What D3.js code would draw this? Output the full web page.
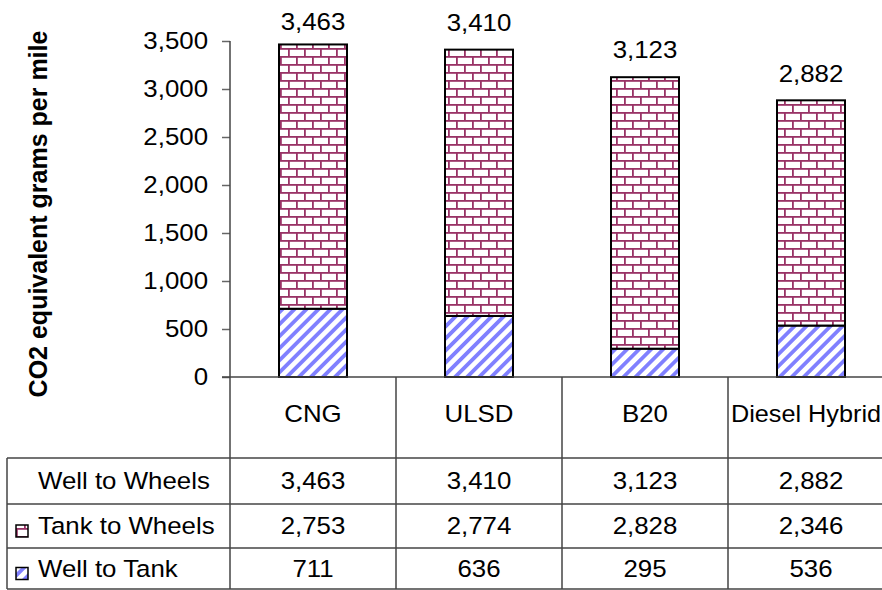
<!DOCTYPE html>
<html><head><meta charset="utf-8">
<script src="https://cdn.jsdelivr.net/npm/d3@7"></script>
<style>
html,body{margin:0;padding:0;background:#fff;}
svg{display:block;font-family:"Liberation Sans",Arial,sans-serif;}
</style></head>
<body>
<svg id="chart" width="882" height="590"></svg>
<script>
const categories = ["CNG", "ULSD", "B20", "Diesel Hybrid"];
const wellToWheels = [3463, 3410, 3123, 2882];
const tankToWheels = [2753, 2774, 2828, 2346];
const wellToTank = [711, 636, 295, 536];
const yTicks = [0, 500, 1000, 1500, 2000, 2500, 3000, 3500];
const rowLabels = ["Well to Wheels", "Tank to Wheels", "Well to Tank"];
const yTitle = "CO2 equivalent grams per mile";

const W = 882;
const svg = d3.select("#chart");
const fs = 23.5;
const sx = 1.1;
const fmt = d3.format(",");

function txt(parent, x, y, s, anchor, scaleX) {
  return parent.append("text")
    .attr("transform", `translate(${x},${y}) scale(${scaleX || sx},1)`)
    .attr("dy", "0.35em")
    .attr("text-anchor", anchor || "middle")
    .attr("font-size", fs).attr("fill", "#000").text(s);
}

// patterns
const defs = svg.append("defs");
const brick = defs.append("pattern").attr("id","brick").attr("patternUnits","userSpaceOnUse")
  .attr("width",16).attr("height",16);
brick.append("rect").attr("width",16).attr("height",16).attr("fill","#fff");
const bc = "#993366";
brick.append("rect").attr("x",0).attr("y",0).attr("width",16).attr("height",1.8).attr("fill",bc);
brick.append("rect").attr("x",0).attr("y",8).attr("width",16).attr("height",1.8).attr("fill",bc);
brick.append("rect").attr("x",0).attr("y",0).attr("width",1.8).attr("height",8).attr("fill",bc);
brick.append("rect").attr("x",8).attr("y",8).attr("width",1.8).attr("height",8).attr("fill",bc);

const stripe = defs.append("pattern").attr("id","stripe").attr("patternUnits","userSpaceOnUse")
  .attr("width",8.5).attr("height",8.5).attr("patternTransform","rotate(45)");
stripe.append("rect").attr("width",8.5).attr("height",8.5).attr("fill","#fff");
stripe.append("rect").attr("x",0).attr("y",0).attr("width",3.8).attr("height",8.5).attr("fill","#8080ff");

// scales
const x = d3.scaleBand().domain(categories).range([230, 894]).paddingInner(0).paddingOuter(0);
const y = d3.scaleLinear().domain([0, 3500]).range([377, 41]);

// y axis
const yAxis = d3.axisLeft(y).tickValues(yTicks).tickFormat(fmt).tickSize(8).tickPadding(14);
const gy = svg.append("g").attr("transform","translate(230,0)").call(yAxis);
gy.select(".domain").remove();
gy.selectAll(".tick line").attr("stroke","#666").attr("stroke-width",1.5);
gy.selectAll(".tick text").attr("font-size",fs).attr("fill","#000")
  .attr("font-family","Liberation Sans, Arial, sans-serif")
  .attr("x", -22/sx).attr("transform", `scale(${sx},1)`);

// y title
svg.append("text").attr("transform","translate(47,214) rotate(-90)")
  .attr("text-anchor","middle").attr("font-weight","bold").attr("font-size",25).attr("fill","#000")
  .text(yTitle);

// bars
const bw = 68;
const g = svg.append("g");
categories.forEach((c,i)=>{
  const cx = x(c) + x.bandwidth()/2;
  g.append("rect").attr("x",cx-bw/2).attr("y",y(wellToTank[i])).attr("width",bw)
    .attr("height",y(0)-y(wellToTank[i])).attr("fill","url(#stripe)").attr("stroke","#000").attr("stroke-width",2);
  g.append("rect").attr("x",cx-bw/2).attr("y",y(wellToTank[i]+tankToWheels[i])).attr("width",bw)
    .attr("height",y(wellToTank[i])-y(wellToTank[i]+tankToWheels[i])).attr("fill","url(#brick)").attr("stroke","#000").attr("stroke-width",2);
  const top = y(wellToTank[i]+tankToWheels[i]);
  const cy = Math.max(top-27, 21.5);
  txt(g, cx, cy, fmt(wellToWheels[i]));
});

// table
const lc = "#444", lw = 1.5;
const rowsY = [377, 458, 504, 548, 589];
const tg = svg.append("g");
tg.append("line").attr("x1",230).attr("x2",230).attr("y1",41).attr("y2",589).attr("stroke",lc).attr("stroke-width",lw);
tg.append("line").attr("x1",222).attr("x2",W).attr("y1",377).attr("y2",377).attr("stroke",lc).attr("stroke-width",lw);
[458,504,548,589].forEach(yy=>{
  tg.append("line").attr("x1",7).attr("x2",W).attr("y1",yy).attr("y2",yy).attr("stroke",lc).attr("stroke-width",lw);
});
tg.append("line").attr("x1",7).attr("x2",7).attr("y1",458).attr("y2",589).attr("stroke",lc).attr("stroke-width",lw);
categories.slice(1).forEach(c=>{
  tg.append("line").attr("x1",x(c)).attr("x2",x(c)).attr("y1",377).attr("y2",589).attr("stroke",lc).attr("stroke-width",lw);
});
categories.forEach(c=>{
  const t = txt(tg, x(c)+x.bandwidth()/2, 414, c);
  const w = t.node().getComputedTextLength() * sx;
  const left = x(c) + x.bandwidth()/2 - w/2;
  const right = left + w;
  if (right > W - 1) {
    const avail = W - 1 - (x(c) + 3);
    const s2 = sx * Math.min(1, avail / w);
    t.attr("text-anchor","start")
     .attr("transform", `translate(${x(c)+3},414) scale(${s2},1)`);
  }
});
const rowData = [wellToWheels, tankToWheels, wellToTank];
rowData.forEach((arr,r)=>{
  const cy = (rowsY[r+1]+rowsY[r+2])/2;
  arr.forEach((v,i)=>{
    txt(tg, x(categories[i])+x.bandwidth()/2, cy, fmt(v));
  });
  txt(tg, 38, cy, rowLabels[r], "start");
  if(r>0){
    tg.append("rect").attr("x",16).attr("y",cy-1).attr("width",12).attr("height",12)
      .attr("fill", r===1 ? "url(#brick)" : "url(#stripe)").attr("stroke","#000").attr("stroke-width",1.5);
  }
});
</script>
</body></html>
